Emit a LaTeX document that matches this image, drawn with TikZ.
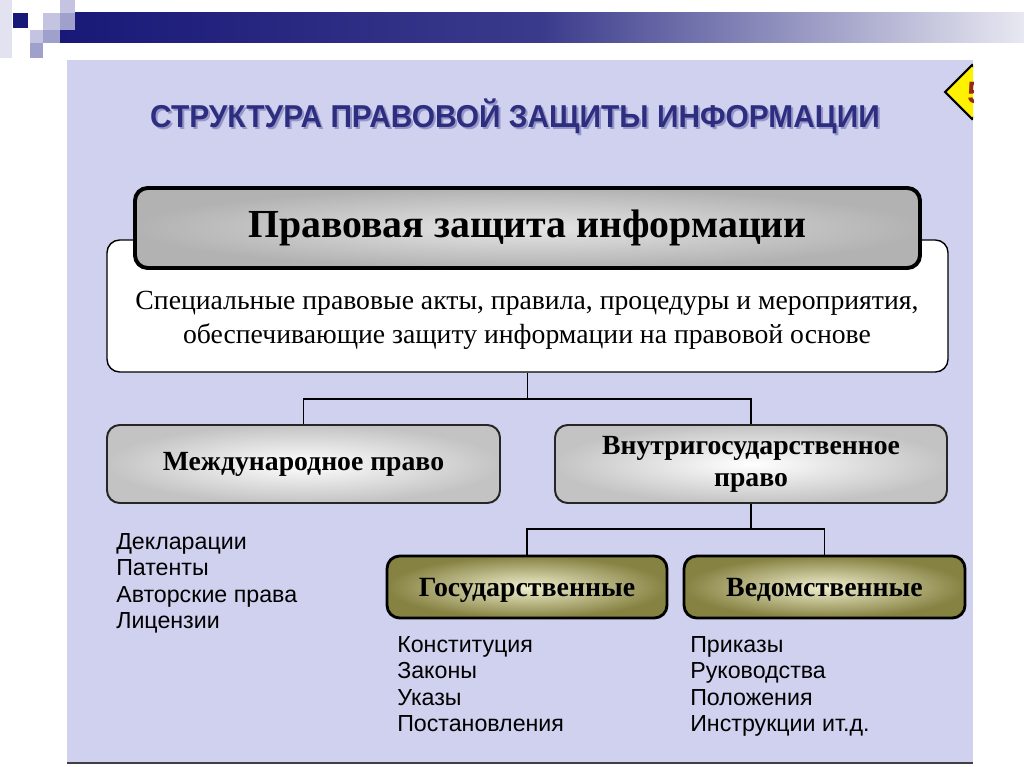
\documentclass[tikz,border=0pt]{standalone}
\usepackage{fontspec}
\setmainfont{Liberation Serif}
\newfontfamily\listfont{Liberation Sans}

\definecolor{panel}{RGB}{207,209,238}
\definecolor{navy}{RGB}{24,24,120}
\definecolor{titleblue}{RGB}{46,46,128}
\definecolor{titleshade}{RGB}{150,150,200}
\definecolor{olivedark}{RGB}{134,130,66}
\definecolor{olivelight}{RGB}{240,238,206}
\definecolor{greyedge}{RGB}{170,170,170}
\definecolor{sqpale}{RGB}{226,226,240}
\definecolor{sqlight}{RGB}{196,196,226}
\definecolor{sqmid}{RGB}{160,160,204}
\definecolor{fivered}{RGB}{150,40,20}

\tikzset{
  headbox/.style={draw=black, line width=2.8pt, rounded corners=9pt,
    inner color=gray!20, outer color=gray!60, inner sep=0pt},
  notebox/.style={draw=black, line width=1pt, rounded corners=9pt,
    fill=white, inner sep=0pt},
  lawbox/.style={draw=black!85, line width=1.4pt, rounded corners=9pt,
    inner color=white, outer color=greyedge!70, inner sep=0pt, align=center,
    font=\fontsize{19.7}{22.8}\selectfont\bfseries},
  kindbox/.style={draw=black, line width=2pt, rounded corners=9pt,
    inner color=olivelight, outer color=olivedark, inner sep=0pt, text depth=0pt,
    font=\fontsize{19.8}{22}\selectfont\bfseries},
  itemlist/.style={anchor=north west, inner sep=0pt, align=left,
    font=\listfont\fontsize{16.5}{18.8}\selectfont},
  link/.style={draw=black, line width=1.3pt}
}

\begin{document}
\begin{tikzpicture}[x=0.025cm, y=-0.025cm]
\useasboundingbox (0,0) rectangle (1024,767);
\fill[white] (0,0) rectangle (1024,767);

% top decoration
\shade[left color=navy, right color=white!90!navy, middle color=navy!85!white] (60,13) rectangle (1024,43);
\fill[sqpale] (0,0) rectangle (12,58);
\fill[sqlight] (60,0) rectangle (75,13);
\fill[sqmid] (60,13) rectangle (75,30);
\fill[navy] (13,13) rectangle (28,28);
\fill[sqlight] (43,13) rectangle (60,30);
\fill[sqlight] (30,30) rectangle (43,43);
\fill[sqmid] (43,30) rectangle (60,43);
\fill[sqmid] (30,43) rectangle (43,58);

% panel
\fill[panel] (67,60) rectangle (973,762);
\draw[black!75, line width=1.2pt] (67,763) -- (973,763);
\begin{scope}
  \clip (67,60) rectangle (973,762);
  \filldraw[fill=yellow, draw=black, line width=1.5pt]
    (945,92) -- (972,65) -- (999,92) -- (972,119) -- cycle;
  \node[text=fivered, font=\listfont\fontsize{22}{22}\selectfont\bfseries] (num) at (976,93) {5};
\end{scope}

% title
\node[text=titleshade, font=\listfont\fontsize{22.5}{22}\selectfont\bfseries] at (517,118) {\scalebox{0.945}[1]{СТРУКТУРА ПРАВОВОЙ ЗАЩИТЫ ИНФОРМАЦИИ}};
\node[text=titleblue, font=\listfont\fontsize{22.5}{22}\selectfont\bfseries] (title) at (515,116) {\scalebox{0.945}[1]{СТРУКТУРА ПРАВОВОЙ ЗАЩИТЫ ИНФОРМАЦИИ}};

% main boxes
\node[notebox, minimum width=841*0.025cm, minimum height=132*0.025cm] (note) at (527.5,306) {};
\node[align=center, font=\fontsize{19.7}{24}\selectfont] (notetext) at (527,320)
  {Специальные правовые акты, правила, процедуры и мероприятия,\\
   обеспечивающие защиту информации на правовой основе};
\node[headbox, minimum width=785*0.025cm, minimum height=80*0.025cm,
  font=\fontsize{28.3}{30}\selectfont\bfseries] (head) at (527.5,228) {Правовая защита информации};

\node[lawbox, minimum width=393*0.025cm, minimum height=78*0.025cm] (intl) at (303.5,464) {Международное право};
\node[lawbox, minimum width=392*0.025cm, minimum height=78*0.025cm] (dom) at (751,464) {Внутригосударственное\\право};

\node[kindbox, minimum width=280*0.025cm, minimum height=62*0.025cm] (state) at (527,587) {Государственные};
\node[kindbox, minimum width=281*0.025cm, minimum height=62*0.025cm] (dept) at (824.5,587) {Ведомственные};

% connectors
\draw[link] (note.south) -- ++(0,26) coordinate (j1) -| (intl.north);
\draw[link] (j1) -| (dom.north);
\draw[link] (dom.south) -- ++(0,25) coordinate (j2) -| (state.north);
\draw[link] (j2) -| (dept.north);

% lists
\node[itemlist] (intllist) at (116,533) {Декларации\\Патенты\\Авторские права\\Лицензии};
\node[itemlist] (statelist) at (397,636) {Конституция\\Законы\\Указы\\Постановления};
\node[itemlist] (deptlist) at (690,636) {Приказы\\Руководства\\Положения\\Инструкции ит.д.};
\end{tikzpicture}
\end{document}
